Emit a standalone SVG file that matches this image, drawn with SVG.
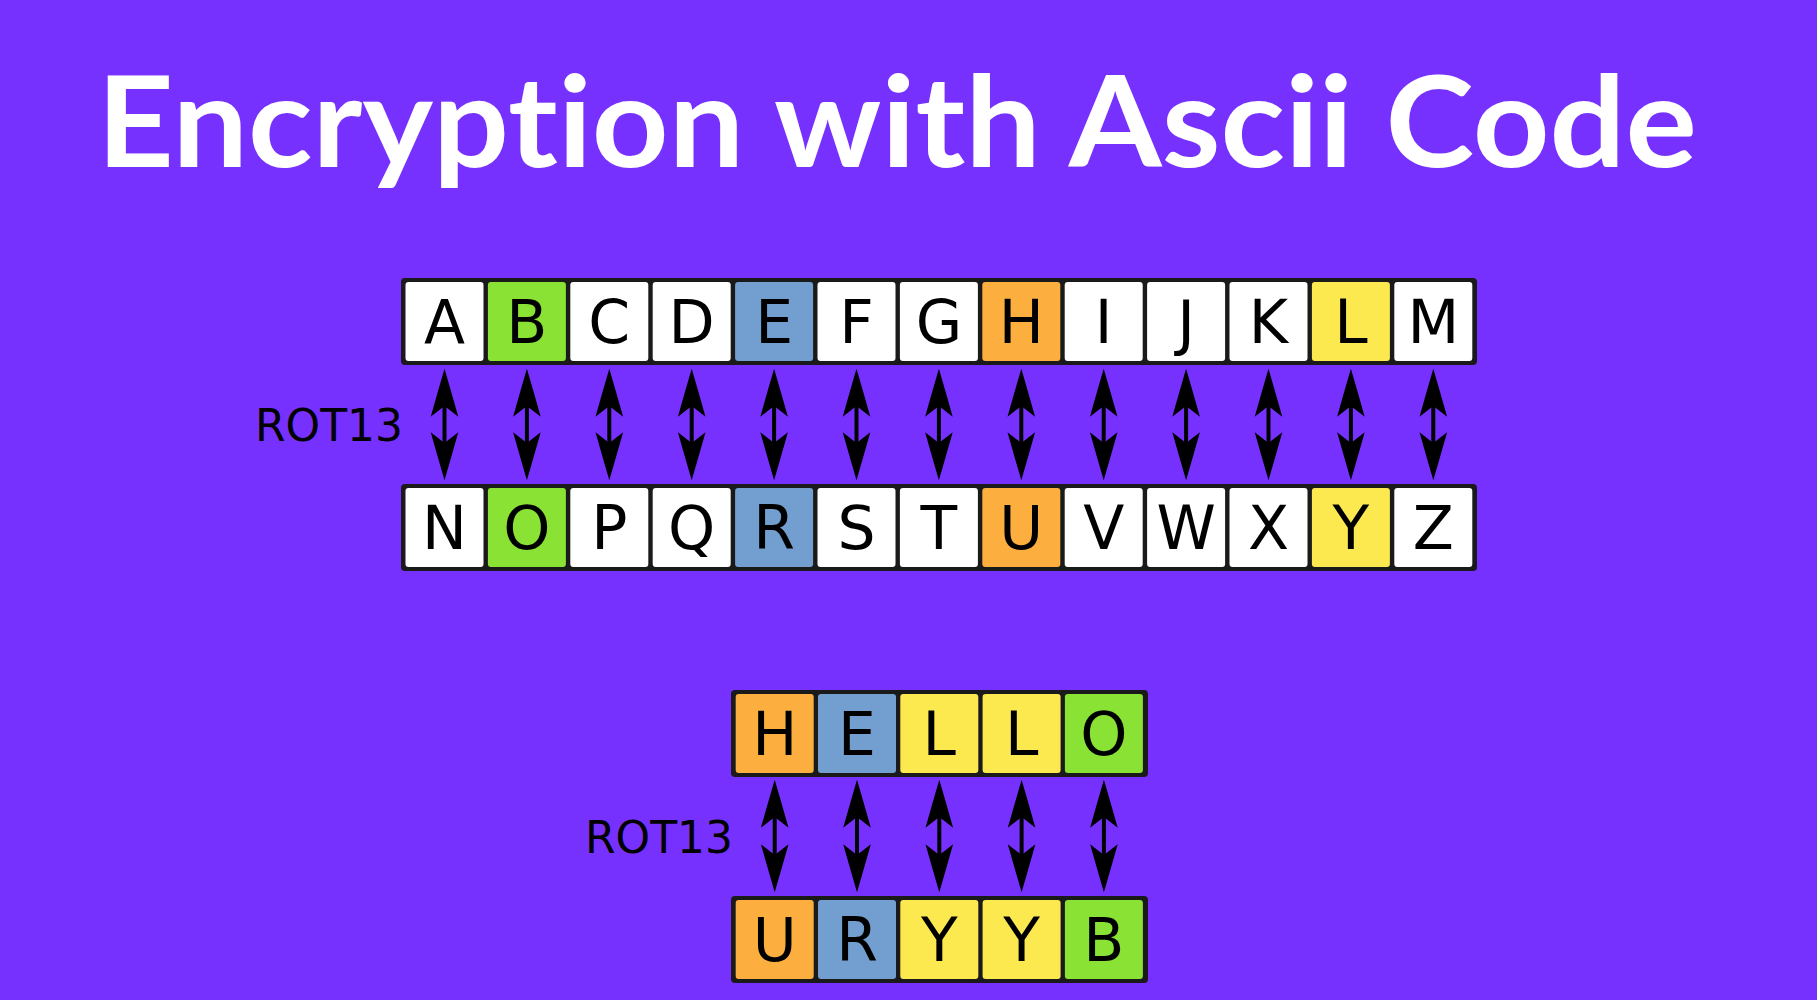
<svg xmlns="http://www.w3.org/2000/svg" width="1817" height="1000" viewBox="0 0 1817 1000">
<style>
.bg{fill:#7731fe}
.frame{fill:#1a1a1a}
.c{stroke:none}
.w{fill:#ffffff}.g{fill:#8ae234}.b{fill:#729fcf}.o{fill:#fcaf3e}.y{fill:#fce94f}
.l{font-family:"DejaVu Sans",sans-serif;font-size:60px;fill:#000;text-anchor:middle}
.rot{font-family:"DejaVu Sans",sans-serif;font-size:44px;fill:#000}
.title{font-family:Lato,"Noto Sans",sans-serif;font-weight:700;font-size:127px;fill:#fff;font-variant-ligatures:none;font-feature-settings:"liga" 0}
.arr{stroke:#000;stroke-width:4;fill:none;marker-start:url(#ah);marker-end:url(#ah)}
</style>
<defs>
<marker id="ah" markerUnits="userSpaceOnUse" orient="auto-start-reverse" refX="0" refY="0" markerWidth="60" markerHeight="40" viewBox="-15 -15 50 30" overflow="visible">
<path d="M31,0 Q14,-5 -9,-11.5 L0,0 L-9,11.5 Q14,5 31,0 Z" fill="#000"/>
</marker>
</defs>
<rect class="bg" x="0" y="0" width="1817" height="1000"/>
<text class="title" x="97" y="167" textLength="1600" lengthAdjust="spacingAndGlyphs">Encryption with Ascii Code</text>

<g id="row-plain">
<rect class="frame" x="401" y="278" width="1076" height="87" rx="4"/>
<g id="cell-A"><rect class="c w" x="405.5" y="282" width="78" height="79" rx="3"/><text class="l" x="444.5" y="343">A</text></g>
<g id="cell-B"><rect class="c g" x="487.9" y="282" width="78" height="79" rx="3"/><text class="l" x="526.9" y="343">B</text></g>
<g id="cell-C"><rect class="c w" x="570.3" y="282" width="78" height="79" rx="3"/><text class="l" x="609.3" y="343">C</text></g>
<g id="cell-D"><rect class="c w" x="652.7" y="282" width="78" height="79" rx="3"/><text class="l" x="691.7" y="343">D</text></g>
<g id="cell-E"><rect class="c b" x="735.1" y="282" width="78" height="79" rx="3"/><text class="l" x="774.1" y="343">E</text></g>
<g id="cell-F"><rect class="c w" x="817.5" y="282" width="78" height="79" rx="3"/><text class="l" x="856.5" y="343">F</text></g>
<g id="cell-G"><rect class="c w" x="899.9" y="282" width="78" height="79" rx="3"/><text class="l" x="938.9" y="343">G</text></g>
<g id="cell-H"><rect class="c o" x="982.3" y="282" width="78" height="79" rx="3"/><text class="l" x="1021.3" y="343">H</text></g>
<g id="cell-I"><rect class="c w" x="1064.7" y="282" width="78" height="79" rx="3"/><text class="l" x="1103.7" y="343">I</text></g>
<g id="cell-J"><rect class="c w" x="1147.1" y="282" width="78" height="79" rx="3"/><text class="l" x="1186.1" y="343">J</text></g>
<g id="cell-K"><rect class="c w" x="1229.5" y="282" width="78" height="79" rx="3"/><text class="l" x="1268.5" y="343">K</text></g>
<g id="cell-L"><rect class="c y" x="1311.9" y="282" width="78" height="79" rx="3"/><text class="l" x="1350.9" y="343">L</text></g>
<g id="cell-M"><rect class="c w" x="1394.3" y="282" width="78" height="79" rx="3"/><text class="l" x="1433.3" y="343">M</text></g>
</g>

<g id="row-cipher">
<rect class="frame" x="401" y="484" width="1076" height="87" rx="4"/>
<g id="cell-N"><rect class="c w" x="405.5" y="488" width="78" height="79" rx="3"/><text class="l" x="444.5" y="549">N</text></g>
<g id="cell-O"><rect class="c g" x="487.9" y="488" width="78" height="79" rx="3"/><text class="l" x="526.9" y="549">O</text></g>
<g id="cell-P"><rect class="c w" x="570.3" y="488" width="78" height="79" rx="3"/><text class="l" x="609.3" y="549">P</text></g>
<g id="cell-Q"><rect class="c w" x="652.7" y="488" width="78" height="79" rx="3"/><text class="l" x="691.7" y="549">Q</text></g>
<g id="cell-R"><rect class="c b" x="735.1" y="488" width="78" height="79" rx="3"/><text class="l" x="774.1" y="549">R</text></g>
<g id="cell-S"><rect class="c w" x="817.5" y="488" width="78" height="79" rx="3"/><text class="l" x="856.5" y="549">S</text></g>
<g id="cell-T"><rect class="c w" x="899.9" y="488" width="78" height="79" rx="3"/><text class="l" x="938.9" y="549">T</text></g>
<g id="cell-U"><rect class="c o" x="982.3" y="488" width="78" height="79" rx="3"/><text class="l" x="1021.3" y="549">U</text></g>
<g id="cell-V"><rect class="c w" x="1064.7" y="488" width="78" height="79" rx="3"/><text class="l" x="1103.7" y="549">V</text></g>
<g id="cell-W"><rect class="c w" x="1147.1" y="488" width="78" height="79" rx="3"/><text class="l" x="1186.1" y="549">W</text></g>
<g id="cell-X"><rect class="c w" x="1229.5" y="488" width="78" height="79" rx="3"/><text class="l" x="1268.5" y="549">X</text></g>
<g id="cell-Y"><rect class="c y" x="1311.9" y="488" width="78" height="79" rx="3"/><text class="l" x="1350.9" y="549">Y</text></g>
<g id="cell-Z"><rect class="c w" x="1394.3" y="488" width="78" height="79" rx="3"/><text class="l" x="1433.3" y="549">Z</text></g>
</g>

<g id="row-hello">
<rect class="frame" x="731" y="690" width="417" height="87" rx="4"/>
<g id="hello-H"><rect class="c o" x="735.7" y="694" width="78" height="79" rx="3"/><text class="l" x="774.7" y="755">H</text></g>
<g id="hello-E"><rect class="c b" x="818" y="694" width="78" height="79" rx="3"/><text class="l" x="857" y="755">E</text></g>
<g id="hello-L1"><rect class="c y" x="900.3" y="694" width="78" height="79" rx="3"/><text class="l" x="939.3" y="755">L</text></g>
<g id="hello-L2"><rect class="c y" x="982.6" y="694" width="78" height="79" rx="3"/><text class="l" x="1021.6" y="755">L</text></g>
<g id="hello-O"><rect class="c g" x="1064.9" y="694" width="78" height="79" rx="3"/><text class="l" x="1103.9" y="755">O</text></g>
</g>

<g id="row-uryyb">
<rect class="frame" x="731" y="896" width="417" height="87" rx="4"/>
<g id="uryyb-U"><rect class="c o" x="735.7" y="900" width="78" height="79" rx="3"/><text class="l" x="774.7" y="961">U</text></g>
<g id="uryyb-R"><rect class="c b" x="818" y="900" width="78" height="79" rx="3"/><text class="l" x="857" y="961">R</text></g>
<g id="uryyb-Y1"><rect class="c y" x="900.3" y="900" width="78" height="79" rx="3"/><text class="l" x="939.3" y="961">Y</text></g>
<g id="uryyb-Y2"><rect class="c y" x="982.6" y="900" width="78" height="79" rx="3"/><text class="l" x="1021.6" y="961">Y</text></g>
<g id="uryyb-B"><rect class="c g" x="1064.9" y="900" width="78" height="79" rx="3"/><text class="l" x="1103.9" y="961">B</text></g>
</g>

<g id="label-rot13-top"><text class="rot" x="255" y="441">ROT13</text></g>
<g id="label-rot13-bottom"><text class="rot" x="585" y="853">ROT13</text></g>

<g id="connectors">
<path class="arr" d="M444.5,406 V443"/>
<path class="arr" d="M526.9,406 V443"/>
<path class="arr" d="M609.3,406 V443"/>
<path class="arr" d="M691.7,406 V443"/>
<path class="arr" d="M774.1,406 V443"/>
<path class="arr" d="M856.5,406 V443"/>
<path class="arr" d="M938.9,406 V443"/>
<path class="arr" d="M1021.3,406 V443"/>
<path class="arr" d="M1103.7,406 V443"/>
<path class="arr" d="M1186.1,406 V443"/>
<path class="arr" d="M1268.5,406 V443"/>
<path class="arr" d="M1350.9,406 V443"/>
<path class="arr" d="M1433.3,406 V443"/>
<path class="arr" d="M774.7,817 V855"/>
<path class="arr" d="M857,817 V855"/>
<path class="arr" d="M939.3,817 V855"/>
<path class="arr" d="M1021.6,817 V855"/>
<path class="arr" d="M1103.9,817 V855"/>
</g>
</svg>
